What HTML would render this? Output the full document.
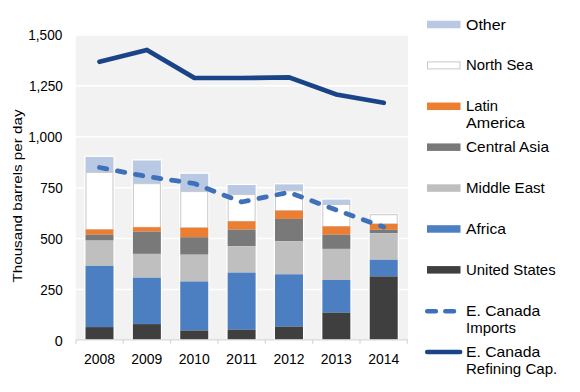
<!DOCTYPE html><html><head><meta charset="utf-8"><style>html,body{margin:0;padding:0;background:#fff;}svg{display:block;}text{font-family:"Liberation Sans",sans-serif;fill:#000;}</style></head><body>
<svg width="580" height="392" viewBox="0 0 580 392">
<rect x="75.81" y="34.95" width="332.19" height="304.95" fill="#f2f2f2"/>
<line x1="75.81" x2="408.00" y1="289.45" y2="289.45" stroke="#ffffff" stroke-width="1.5"/>
<line x1="75.81" x2="408.00" y1="238.55" y2="238.55" stroke="#ffffff" stroke-width="1.5"/>
<line x1="75.81" x2="408.00" y1="187.65" y2="187.65" stroke="#ffffff" stroke-width="1.5"/>
<line x1="75.81" x2="408.00" y1="136.75" y2="136.75" stroke="#ffffff" stroke-width="1.5"/>
<line x1="75.81" x2="408.00" y1="85.85" y2="85.85" stroke="#ffffff" stroke-width="1.5"/>
<line x1="75.81" x2="408.00" y1="34.95" y2="34.95" stroke="#ffffff" stroke-width="1.5"/>
<line x1="75.81" x2="408.00" y1="339.9" y2="339.9" stroke="#d9d9d9" stroke-width="1.3"/>
<line x1="75.81" x2="75.81" y1="339.9" y2="343.7" stroke="#d9d9d9" stroke-width="1.3"/>
<line x1="123.19" x2="123.19" y1="339.9" y2="343.7" stroke="#d9d9d9" stroke-width="1.3"/>
<line x1="170.56" x2="170.56" y1="339.9" y2="343.7" stroke="#d9d9d9" stroke-width="1.3"/>
<line x1="217.92" x2="217.92" y1="339.9" y2="343.7" stroke="#d9d9d9" stroke-width="1.3"/>
<line x1="265.29" x2="265.29" y1="339.9" y2="343.7" stroke="#d9d9d9" stroke-width="1.3"/>
<line x1="312.66" x2="312.66" y1="339.9" y2="343.7" stroke="#d9d9d9" stroke-width="1.3"/>
<line x1="360.03" x2="360.03" y1="339.9" y2="343.7" stroke="#d9d9d9" stroke-width="1.3"/>
<line x1="407.40" x2="407.40" y1="339.9" y2="343.7" stroke="#d9d9d9" stroke-width="1.3"/>
<rect x="84.30" y="155.70" width="30.40" height="183.50" fill="#ffffff"/>
<rect x="85.50" y="156.90" width="28.00" height="15.50" fill="#b9c9e3"/>
<rect x="86.00" y="172.40" width="27.00" height="57.20" fill="#ffffff" stroke="#c8c8c8" stroke-width="1"/>
<rect x="85.50" y="229.60" width="28.00" height="5.10" fill="#ed7d31"/>
<rect x="85.50" y="234.70" width="28.00" height="5.90" fill="#797979"/>
<rect x="85.50" y="240.60" width="28.00" height="25.30" fill="#bfbfbf"/>
<rect x="85.50" y="265.90" width="28.00" height="61.20" fill="#4b7fc2"/>
<rect x="85.50" y="327.10" width="28.00" height="12.10" fill="#3f3f3f"/>
<rect x="131.67" y="159.30" width="30.40" height="179.90" fill="#ffffff"/>
<rect x="132.87" y="160.50" width="28.00" height="23.20" fill="#b9c9e3"/>
<rect x="133.37" y="183.70" width="27.00" height="43.60" fill="#ffffff" stroke="#c8c8c8" stroke-width="1"/>
<rect x="132.87" y="227.30" width="28.00" height="4.30" fill="#ed7d31"/>
<rect x="132.87" y="231.60" width="28.00" height="22.30" fill="#797979"/>
<rect x="132.87" y="253.90" width="28.00" height="23.80" fill="#bfbfbf"/>
<rect x="132.87" y="277.70" width="28.00" height="46.40" fill="#4b7fc2"/>
<rect x="132.87" y="324.10" width="28.00" height="15.10" fill="#3f3f3f"/>
<rect x="179.04" y="172.60" width="30.40" height="166.60" fill="#ffffff"/>
<rect x="180.24" y="173.80" width="28.00" height="17.80" fill="#b9c9e3"/>
<rect x="180.74" y="191.60" width="27.00" height="36.20" fill="#ffffff" stroke="#c8c8c8" stroke-width="1"/>
<rect x="180.24" y="227.80" width="28.00" height="9.40" fill="#ed7d31"/>
<rect x="180.24" y="237.20" width="28.00" height="17.50" fill="#797979"/>
<rect x="180.24" y="254.70" width="28.00" height="26.80" fill="#bfbfbf"/>
<rect x="180.24" y="281.50" width="28.00" height="49.00" fill="#4b7fc2"/>
<rect x="180.24" y="330.50" width="28.00" height="8.70" fill="#3f3f3f"/>
<rect x="226.41" y="183.80" width="30.40" height="155.40" fill="#ffffff"/>
<rect x="227.61" y="185.00" width="28.00" height="9.60" fill="#b9c9e3"/>
<rect x="228.11" y="194.60" width="27.00" height="26.80" fill="#ffffff" stroke="#c8c8c8" stroke-width="1"/>
<rect x="227.61" y="221.40" width="28.00" height="8.20" fill="#ed7d31"/>
<rect x="227.61" y="229.60" width="28.00" height="16.70" fill="#797979"/>
<rect x="227.61" y="246.30" width="28.00" height="26.30" fill="#bfbfbf"/>
<rect x="227.61" y="272.60" width="28.00" height="57.10" fill="#4b7fc2"/>
<rect x="227.61" y="329.70" width="28.00" height="9.50" fill="#3f3f3f"/>
<rect x="273.78" y="183.20" width="30.40" height="156.00" fill="#ffffff"/>
<rect x="274.98" y="184.40" width="28.00" height="6.40" fill="#b9c9e3"/>
<rect x="275.48" y="190.80" width="27.00" height="19.90" fill="#ffffff" stroke="#c8c8c8" stroke-width="1"/>
<rect x="274.98" y="210.70" width="28.00" height="8.20" fill="#ed7d31"/>
<rect x="274.98" y="218.90" width="28.00" height="22.40" fill="#797979"/>
<rect x="274.98" y="241.30" width="28.00" height="33.00" fill="#bfbfbf"/>
<rect x="274.98" y="274.30" width="28.00" height="52.30" fill="#4b7fc2"/>
<rect x="274.98" y="326.60" width="28.00" height="12.60" fill="#3f3f3f"/>
<rect x="321.15" y="198.40" width="30.40" height="140.80" fill="#ffffff"/>
<rect x="322.35" y="199.60" width="28.00" height="4.90" fill="#b9c9e3"/>
<rect x="322.85" y="204.50" width="27.00" height="22.00" fill="#ffffff" stroke="#c8c8c8" stroke-width="1"/>
<rect x="322.35" y="226.50" width="28.00" height="8.20" fill="#ed7d31"/>
<rect x="322.35" y="234.70" width="28.00" height="14.20" fill="#797979"/>
<rect x="322.35" y="248.90" width="28.00" height="31.10" fill="#bfbfbf"/>
<rect x="322.35" y="280.00" width="28.00" height="32.60" fill="#4b7fc2"/>
<rect x="322.35" y="312.60" width="28.00" height="26.60" fill="#3f3f3f"/>
<rect x="368.52" y="213.50" width="30.40" height="125.70" fill="#ffffff"/>
<rect x="370.22" y="214.70" width="27.00" height="9.20" fill="#ffffff" stroke="#c8c8c8" stroke-width="1"/>
<rect x="369.72" y="223.90" width="28.00" height="5.90" fill="#ed7d31"/>
<rect x="369.72" y="229.80" width="28.00" height="3.50" fill="#797979"/>
<rect x="369.72" y="233.30" width="28.00" height="26.50" fill="#bfbfbf"/>
<rect x="369.72" y="259.80" width="28.00" height="16.60" fill="#4b7fc2"/>
<rect x="369.72" y="276.40" width="28.00" height="62.80" fill="#3f3f3f"/>
<polyline points="99.50,167.5 146.87,176.5 194.24,183.5 241.61,202.0 288.98,192.3 336.35,210.0 383.72,227.0" fill="none" stroke="#3f71b9" stroke-width="4.8" stroke-linecap="round" stroke-linejoin="round" stroke-dasharray="7.4 10.9"/>
<polyline points="99.50,61.8 146.87,50.0 194.24,77.8 241.61,78.0 288.98,77.3 336.35,94.5 383.72,102.8" fill="none" stroke="#1a4488" stroke-width="4.7" stroke-linecap="round" stroke-linejoin="miter"/>
<text x="62.70" y="345.65" font-size="14.5" text-anchor="end" textLength="8.0" lengthAdjust="spacingAndGlyphs">0</text>
<text x="62.80" y="294.75" font-size="14.5" text-anchor="end" textLength="22.5" lengthAdjust="spacingAndGlyphs">250</text>
<text x="62.80" y="243.85" font-size="14.5" text-anchor="end" textLength="22.5" lengthAdjust="spacingAndGlyphs">500</text>
<text x="62.80" y="192.95" font-size="14.5" text-anchor="end" textLength="22.5" lengthAdjust="spacingAndGlyphs">750</text>
<text x="62.30" y="142.05" font-size="14.5" text-anchor="end" textLength="34.0" lengthAdjust="spacingAndGlyphs">1,000</text>
<text x="62.90" y="91.15" font-size="14.5" text-anchor="end" textLength="34.0" lengthAdjust="spacingAndGlyphs">1,250</text>
<text x="62.30" y="40.25" font-size="14.5" text-anchor="end" textLength="34.0" lengthAdjust="spacingAndGlyphs">1,500</text>
<text x="99.50" y="364.20" font-size="14.5" text-anchor="middle" textLength="31" lengthAdjust="spacingAndGlyphs">2008</text>
<text x="146.87" y="364.20" font-size="14.5" text-anchor="middle" textLength="31" lengthAdjust="spacingAndGlyphs">2009</text>
<text x="194.24" y="364.20" font-size="14.5" text-anchor="middle" textLength="31" lengthAdjust="spacingAndGlyphs">2010</text>
<text x="241.61" y="364.20" font-size="14.5" text-anchor="middle" textLength="31" lengthAdjust="spacingAndGlyphs">2011</text>
<text x="288.98" y="364.20" font-size="14.5" text-anchor="middle" textLength="31" lengthAdjust="spacingAndGlyphs">2012</text>
<text x="336.35" y="364.20" font-size="14.5" text-anchor="middle" textLength="31" lengthAdjust="spacingAndGlyphs">2013</text>
<text x="383.72" y="364.20" font-size="14.5" text-anchor="middle" textLength="31" lengthAdjust="spacingAndGlyphs">2014</text>
<text transform="translate(21.7,196) rotate(-90)" font-size="13" text-anchor="middle" textLength="173" lengthAdjust="spacingAndGlyphs">Thousand barrels per day</text>
<rect x="427" y="20.75" width="33.5" height="7.5" fill="#b9c9e3"/>
<text x="466.00" y="29.50" font-size="14.5" textLength="39.9" lengthAdjust="spacingAndGlyphs">Other</text>
<rect x="427.5" y="61.89" width="32.5" height="7" fill="#fff" stroke="#c8c8c8" stroke-width="1"/>
<text x="466.00" y="70.39" font-size="14.5" textLength="66.89999999999999" lengthAdjust="spacingAndGlyphs">North Sea</text>
<rect x="427" y="102.53" width="33.5" height="7.5" fill="#ed7d31"/>
<text x="466.00" y="111.28" font-size="14.5" textLength="32.1" lengthAdjust="spacingAndGlyphs">Latin</text>
<text x="466.00" y="128.48" font-size="14.5" textLength="59.0" lengthAdjust="spacingAndGlyphs">America</text>
<rect x="427" y="143.42" width="33.5" height="7.5" fill="#797979"/>
<text x="466.00" y="152.17" font-size="14.5" textLength="83.0" lengthAdjust="spacingAndGlyphs">Central Asia</text>
<rect x="427" y="184.31" width="33.5" height="7.5" fill="#bfbfbf"/>
<text x="466.00" y="193.06" font-size="14.5" textLength="78.8" lengthAdjust="spacingAndGlyphs">Middle East</text>
<rect x="427" y="225.20" width="33.5" height="7.5" fill="#4b7fc2"/>
<text x="466.00" y="233.95" font-size="14.5" textLength="39.9" lengthAdjust="spacingAndGlyphs">Africa</text>
<rect x="427" y="266.09" width="33.5" height="7.5" fill="#3f3f3f"/>
<text x="466.00" y="274.84" font-size="14.5" textLength="89.6" lengthAdjust="spacingAndGlyphs">United States</text>
<line x1="427.2" x2="454.3" y1="311.23" y2="311.23" stroke="#3f71b9" stroke-width="4.5" stroke-linecap="round" stroke-dasharray="8.7 9.4"/>
<text x="466.00" y="315.73" font-size="14.5" textLength="74.3" lengthAdjust="spacingAndGlyphs">E. Canada</text>
<text x="466.00" y="332.93" font-size="14.5" textLength="49.9" lengthAdjust="spacingAndGlyphs">Imports</text>
<line x1="427.2" x2="460.2" y1="351.92" y2="351.92" stroke="#1a4488" stroke-width="4.5" stroke-linecap="round"/>
<text x="466.00" y="356.62" font-size="14.5" textLength="74.3" lengthAdjust="spacingAndGlyphs">E. Canada</text>
<text x="466.00" y="373.82" font-size="14.5" textLength="91.19999999999999" lengthAdjust="spacingAndGlyphs">Refining Cap.</text>
</svg></body></html>
